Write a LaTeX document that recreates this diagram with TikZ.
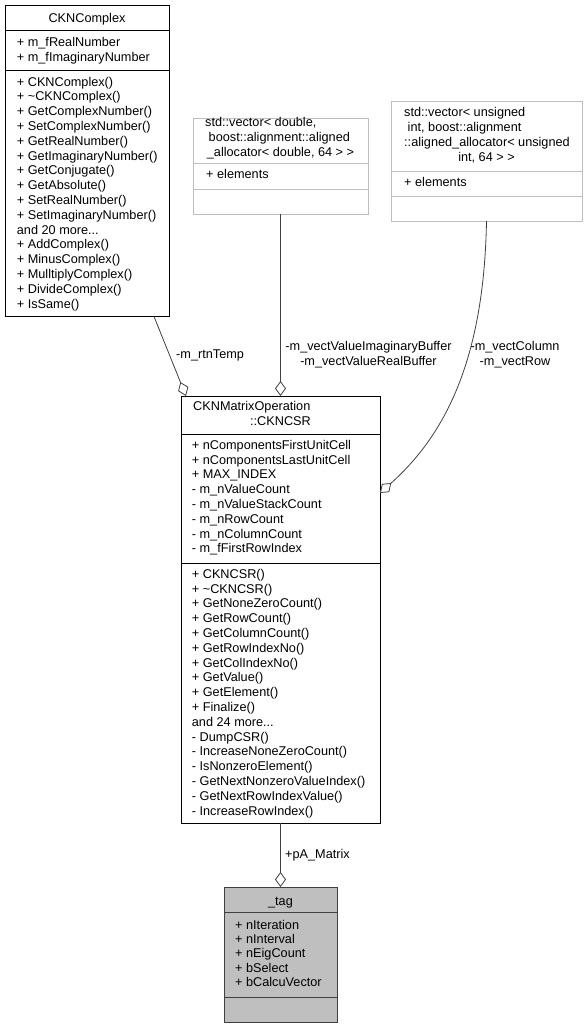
\documentclass[tikz,border=0pt]{standalone}
\usepackage{fontspec}
\setmainfont{Liberation Sans}
\usetikzlibrary{arrows.meta,calc}

\definecolor{edgegray}{HTML}{404040}
\definecolor{palegray}{HTML}{BFBFBF}
\newcommand\umlfont{\fontsize{12.7}{14.8}\selectfont}

\begin{document}
\begin{tikzpicture}[x=1pt, y=-1pt,
  classbox/.style={draw=black, line width=1pt, inner sep=0pt, outer sep=0pt, anchor=north west},
  sepline/.style={line width=1pt},
  % multi-line members: base = baseline of the last line
  member/.style={anchor=base west, inner sep=0pt, align=left, font=\umlfont},
  title/.style={anchor=base, inner sep=0pt, font=\umlfont},
  role/.style={anchor=base, inner sep=0pt, align=center, font=\umlfont},
  aggr/.style={draw=edgegray, line width=0.8pt, -{Diamond[length=15pt, width=11pt, fill=white]}}]
  \useasboundingbox (0,0) rectangle (588,1028);

  % CKNComplex
  \node[classbox, minimum width=164pt, minimum height=311.5pt] (cplx) at (5,5) {};
  \draw[sepline] ($(cplx.north west)+(0,25.3)$) -- ($(cplx.north east)+(0,25.3)$);
  \draw[sepline] ($(cplx.north west)+(0,65.7)$) -- ($(cplx.north east)+(0,65.7)$);
  \node[title] (cplx-title) at (87,22) {CKNComplex};
  \node[member] (cplx-attr) at (16.7,61.5) {+ m\_fRealNumber\\+ m\_fImaginaryNumber};
  \node[member] (cplx-ops) at (16.7,308) {+ CKNComplex()\\+ \textasciitilde CKNComplex()\\
    + GetComplexNumber()\\+ SetComplexNumber()\\+ GetRealNumber()\\
    + GetImaginaryNumber()\\+ GetConjugate()\\+ GetAbsolute()\\+ SetRealNumber()\\
    + SetImaginaryNumber()\\and 20 more...\\+ AddComplex()\\+ MinusComplex()\\
    + MulltiplyComplex()\\+ DivideComplex()\\+ IsSame()};

  % std::vector< double >
  \node[classbox, draw=palegray, minimum width=175pt, minimum height=96pt] (vecd) at (193,118) {};
  \draw[sepline, palegray] ($(vecd.north west)+(0,45)$) -- ($(vecd.north east)+(0,45)$);
  \draw[sepline, palegray] ($(vecd.north west)+(0,71)$) -- ($(vecd.north east)+(0,71)$);
  \node[member] (vecd-title) at (205,141.5) {std::vector< double,\\\ boost::alignment::aligned};
  \node[title] (vecd-title2) at (280.5,156.3) {\_allocator< double, 64 > >};
  \node[member] (vecd-attr) at (206,178) {+ elements};

  % std::vector< unsigned int >
  \node[classbox, draw=palegray, minimum width=191pt, minimum height=120pt] (vecu) at (391,101) {};
  \draw[sepline, palegray] ($(vecu.north west)+(0,70)$) -- ($(vecu.north east)+(0,70)$);
  \draw[sepline, palegray] ($(vecu.north west)+(0,95)$) -- ($(vecu.north east)+(0,95)$);
  \node[member] (vecu-title) at (404,146.3) {std::vector< unsigned\\\ int, boost::alignment\\::aligned\_allocator< unsigned};
  \node[title] (vecu-title2) at (486.5,161.1) {int, 64 > >};
  \node[member] (vecu-attr) at (404,186) {+ elements};

  % CKNMatrixOperation::CKNCSR
  \node[classbox, minimum width=199pt, minimum height=427pt] (csr) at (181,396) {};
  \draw[sepline] ($(csr.north west)+(0,38.3)$) -- ($(csr.north east)+(0,38.3)$);
  \draw[sepline] ($(csr.north west)+(0,167)$) -- ($(csr.north east)+(0,167)$);
  \node[member] (csr-title) at (193,410.7) {CKNMatrixOperation};
  \node[title] (csr-title2) at (280.5,425.5) {::CKNCSR};
  \node[member] (csr-attr) at (191.7,552.9) {+ nComponentsFirstUnitCell\\+ nComponentsLastUnitCell\\
    + MAX\_INDEX\\- m\_nValueCount\\- m\_nValueStackCount\\- m\_nRowCount\\
    - m\_nColumnCount\\- m\_fFirstRowIndex};
  \node[member] (csr-ops) at (191.7,815.1) {+ CKNCSR()\\+ \textasciitilde CKNCSR()\\
    + GetNoneZeroCount()\\+ GetRowCount()\\+ GetColumnCount()\\+ GetRowIndexNo()\\
    + GetColIndexNo()\\+ GetValue()\\+ GetElement()\\+ Finalize()\\and 24 more...\\
    - DumpCSR()\\- IncreaseNoneZeroCount()\\- IsNonzeroElement()\\
    - GetNextNonzeroValueIndex()\\- GetNextRowIndexValue()\\- IncreaseRowIndex()};

  % _tag
  \node[classbox, draw=edgegray, fill=palegray, minimum width=113pt, minimum height=135pt] (tag) at (224,887) {};
  \draw[sepline, edgegray] ($(tag.north west)+(0,25)$) -- ($(tag.north east)+(0,25)$);
  \draw[sepline, edgegray] ($(tag.north west)+(0,110)$) -- ($(tag.north east)+(0,110)$);
  \node[title] (tag-title) at (280.5,905) {\_tag};
  \node[member, font={\fontsize{12.7}{14.4}\selectfont}] (tag-attr) at (235,986.6)
    {+ nIteration\\+ nInterval\\+ nEigCount\\+ bSelect\\+ bCalcuVector};

  % Aggregations
  \draw[aggr] ($(cplx.south west)+(149,0)$) -- ($(csr.north west)+(5,0)$);
  \draw[aggr] (vecd.south) -- (csr.north);
  \draw[aggr] (vecu.south) .. controls ($(vecu.south)+(-2.5,139)$) and ($(csr.north east)+(65,39)$)
    .. ($(csr.north east)+(0,97)$);
  \draw[aggr] (csr.south) -- (tag.north);

  % Roles
  \node[member] (role-temp) at (176,358.3) {-m\_rtnTemp};
  \node[role] (role-buf) at (368.5,365.7) {-m\_vectValueImaginaryBuffer\\-m\_vectValueRealBuffer};
  \node[role] (role-idx) at (515,365.7) {-m\_vectColumn\\-m\_vectRow};
  \node[member] (role-mat) at (285,858) {+pA\_Matrix};
\end{tikzpicture}
\end{document}
